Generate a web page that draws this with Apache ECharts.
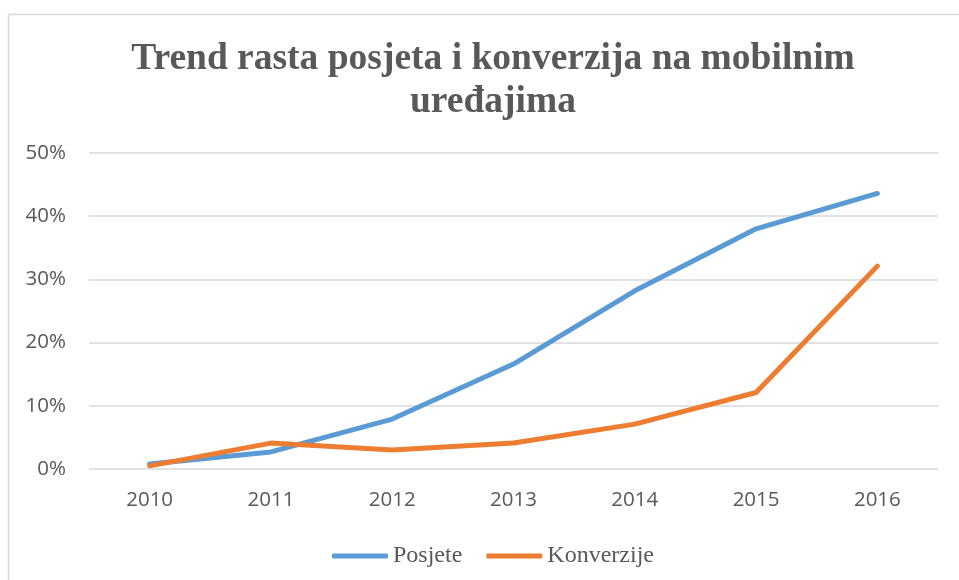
<!DOCTYPE html>
<html>
<head>
<meta charset="utf-8">
<script src="https://cdn.jsdelivr.net/npm/echarts@6/dist/echarts.min.js"></script>
<style>
  html, body { margin: 0; padding: 0; background: #fff; }
  #chart { width: 959px; height: 580px; }
</style>
</head>
<body>
<div id="chart"></div>
<script>
// Podaci
const godine = ['2010', '2011', '2012', '2013', '2014', '2015', '2016'];
const posjete = [0.8, 2.7, 7.9, 16.6, 28.2, 38.0, 43.6];
const konverzije = [0.5, 4.1, 3.0, 4.1, 7.1, 12.1, 32.1];

const SIVA = '#595959';

const myChart = echarts.init(document.getElementById('chart'), null, { renderer: 'canvas' });

const option = {
  animation: false,
  title: {
    text: 'Trend rasta posjeta i konverzija na mobilnim\nuređajima',
    left: 488,
    textAlign: 'center',
    top: 33,
    textStyle: {
      fontFamily: 'Liberation Serif',
      fontWeight: 'bold',
      fontSize: 37.5,
      lineHeight: 43,
      color: SIVA,
    },
  },
  graphic: [
    {
      type: 'rect',
      shape: { x: 8.5, y: 14.5, width: 1000, height: 1000 },
      style: { fill: 'none', stroke: '#d9d9d9', lineWidth: 1.5 },
      silent: true,
    },
  ],
  legend: {
    left: 327,
    top: 539,
    icon: 'roundRect',
    itemWidth: 56,
    itemHeight: 5,
    itemGap: 24,
    textStyle: {
      fontFamily: 'Liberation Serif',
      fontSize: 24,
      color: SIVA,
    },
    data: ['Posjete', 'Konverzije'],
  },
  grid: {
    left: 89,
    right: 21,
    top: 153,
    bottom: 111,
    containLabel: false,
  },
  xAxis: {
    type: 'category',
    data: godine,
    boundaryGap: true,
    axisLine: { show: false },
    axisTick: { show: false },
    axisLabel: {
      margin: 21,
      fontFamily: 'Open Sans',
      fontSize: 20.5,
      color: SIVA,
    },
  },
  yAxis: {
    type: 'value',
    min: 0,
    max: 50,
    interval: 10,
    axisLine: { show: false },
    axisTick: { show: false },
    splitLine: { lineStyle: { color: '#d9d9d9', width: 1.5 } },
    axisLabel: {
      margin: 23,
      fontFamily: 'Open Sans',
      fontSize: 20.5,
      color: SIVA,
      formatter: '{value}%',
    },
  },
  series: [
    {
      name: 'Posjete',
      type: 'line',
      data: posjete,
      showSymbol: false,
      symbol: 'none',
      color: '#5B9BD5',
      lineStyle: { width: 5, cap: 'round', join: 'round' },
    },
    {
      name: 'Konverzije',
      type: 'line',
      data: konverzije,
      showSymbol: false,
      symbol: 'none',
      color: '#ED7D31',
      lineStyle: { width: 5, cap: 'round', join: 'round' },
    },
  ],
};

myChart.setOption(option);
</script>
</body>
</html>
